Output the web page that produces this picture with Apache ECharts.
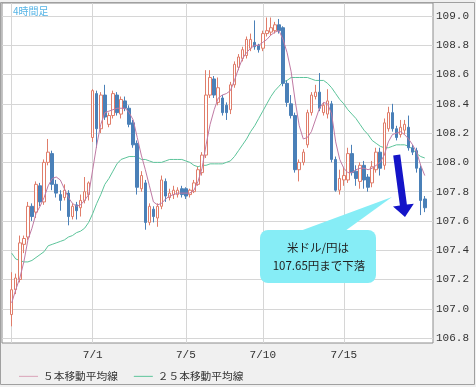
<!DOCTYPE html>
<html><head><meta charset="utf-8">
<script src="https://cdn.jsdelivr.net/npm/echarts@6/dist/echarts.min.js"></script>
<style>html,body{margin:0;padding:0;background:#fff}#c{width:476px;height:387px}</style>
</head><body><div id="c"></div>
<script>
// 4-hour bars (index 0..102)
const opens  = [106.96,107.13,107.20,107.44,107.49,107.70,107.66,107.84,107.73,108.00,108.06,107.85,107.78,107.76,107.79,107.63,107.71,107.69,107.74,107.78,
108.17,108.47,108.23,108.46,108.26,108.32,108.46,108.33,108.42,108.37,108.27,108.13,107.82,107.86,107.59,107.68,107.62,107.70,107.87,107.76,
107.78,107.78,107.82,107.82,107.78,107.80,107.85,107.93,108.05,108.46,108.57,108.41,108.44,108.39,108.36,108.53,108.65,108.71,108.73,108.78,
108.82,108.80,108.78,108.88,108.89,108.90,108.94,108.92,108.54,108.40,108.32,107.95,108.00,108.12,108.34,108.45,108.48,108.34,108.33,108.40,
108.02,107.81,107.88,107.88,108.06,107.94,107.87,107.98,107.90,107.86,107.95,108.07,107.98,108.23,108.34,108.23,108.19,108.22,108.24,108.10,
108.08,107.96,107.75];
const closes = [107.13,107.21,107.45,107.48,107.70,107.63,107.85,107.73,108.00,108.07,107.85,107.79,107.74,107.81,107.63,107.70,107.67,107.74,107.80,107.86,
108.49,108.23,108.46,108.31,108.32,108.47,108.34,108.43,108.37,108.26,108.12,107.83,107.91,107.59,107.70,107.63,107.70,107.88,107.77,107.79,
107.81,107.81,107.78,107.77,107.81,107.86,107.95,108.05,108.46,108.58,108.46,108.51,108.34,108.34,108.53,108.67,108.72,108.77,108.84,108.84,
108.79,108.77,108.88,108.90,108.92,108.94,108.90,108.54,108.41,108.32,107.95,108.00,108.07,108.34,108.46,108.48,108.37,108.39,108.42,108.02,
107.81,107.89,107.91,108.06,107.93,107.89,107.98,107.88,107.83,107.97,108.07,107.96,108.27,108.34,108.23,108.17,108.24,108.26,108.10,108.07,
107.96,107.74,107.69];
const lows   = [106.88,107.10,107.18,107.38,107.47,107.60,107.62,107.70,107.71,107.98,107.81,107.76,107.67,107.74,107.57,107.61,107.61,107.63,107.72,107.74,
108.14,108.10,108.20,108.29,108.24,108.30,108.32,108.30,108.35,108.24,108.10,107.78,107.80,107.54,107.57,107.59,107.56,107.68,107.73,107.74,
107.75,107.76,107.76,107.75,107.76,107.79,107.84,107.91,108.03,108.44,108.44,108.39,108.32,108.29,108.33,108.51,108.63,108.69,108.71,108.76,
108.77,108.75,108.76,108.86,108.87,108.88,108.88,108.52,108.38,108.30,107.93,107.87,107.98,108.10,108.32,108.43,108.35,108.32,108.30,108.00,
107.80,107.78,107.84,107.86,107.91,107.84,107.82,107.82,107.80,107.83,107.93,107.91,107.95,108.21,108.21,108.15,108.17,108.19,108.08,108.05,
107.93,107.64,107.66];
const highs  = [107.25,107.24,107.50,107.50,107.73,107.72,107.87,107.86,108.02,108.16,108.08,107.88,107.81,107.85,107.81,107.72,107.73,107.78,107.90,107.87,
108.50,108.49,108.48,108.53,108.34,108.49,108.48,108.45,108.45,108.39,108.29,108.15,107.94,107.88,107.72,107.70,107.72,107.91,107.89,107.82,
107.84,107.83,107.84,107.83,107.82,107.88,107.97,108.07,108.63,108.63,108.59,108.58,108.46,108.41,108.55,108.69,108.74,108.79,108.86,108.88,
108.97,108.81,108.90,108.99,108.99,108.96,108.98,108.93,108.56,108.46,108.34,108.02,108.09,108.36,108.48,108.53,108.61,108.41,108.50,108.42,
108.04,107.95,107.97,108.10,108.12,107.98,108.00,108.01,107.92,108.01,108.10,108.10,108.30,108.38,108.40,108.25,108.29,108.29,108.32,108.12,
108.10,107.98,107.77];
const ma5  = [107.04,107.13,107.21,107.32,107.47,107.55,107.65,107.70,107.76,107.84,107.89,107.90,107.88,107.82,107.76,107.72,107.70,107.71,107.74,107.78,
107.95,108.12,108.26,108.34,108.35,108.36,108.37,108.37,108.37,108.34,108.29,108.17,108.05,107.95,107.84,107.73,107.71,107.72,107.75,107.77,
107.78,107.79,107.79,107.79,107.79,107.81,107.87,107.96,108.12,108.26,108.36,108.44,108.46,108.47,108.49,108.56,108.64,108.71,108.75,108.78,
108.80,108.80,108.82,108.84,108.87,108.89,108.90,108.84,108.75,108.62,108.42,108.25,108.16,108.17,108.21,108.29,108.37,108.41,108.40,108.33,
108.14,108.02,107.96,107.93,107.93,107.95,107.96,107.96,107.95,107.96,107.98,108.00,108.05,108.14,108.19,108.20,108.21,108.19,108.16,108.12,
108.07,107.98,107.91];
const ma25 = [107.38,107.34,107.33,107.32,107.32,107.33,107.35,107.37,107.39,107.43,107.44,107.45,107.46,107.47,107.49,107.50,107.52,107.53,107.55,107.59,
107.65,107.72,107.78,107.85,107.89,107.94,107.99,108.02,108.03,108.04,108.04,108.04,108.02,108.02,108.01,108.00,108.00,108.00,108.01,108.02,
108.02,108.02,108.02,108.01,108.00,107.98,107.97,107.98,107.98,107.99,107.99,107.99,107.99,108.00,108.01,108.04,108.08,108.12,108.16,108.21,
108.25,108.30,108.35,108.40,108.45,108.49,108.52,108.55,108.56,108.58,108.58,108.58,108.58,108.58,108.57,108.56,108.56,108.56,108.54,108.51,
108.47,108.43,108.40,108.36,108.33,108.30,108.26,108.22,108.19,108.15,108.13,108.11,108.10,108.10,108.11,108.12,108.12,108.12,108.11,108.09,
108.06,108.04,108.03];
const gridIndex = [0,20,43,62,82];
const dateIndex = [20,43,62,82];
const dateLabels = ['7/1','7/5','7/10','7/15'];
const yTicks = [106.8,107.0,107.2,107.4,107.6,107.8,108.0,108.2,108.4,108.6,108.8,109.0];
const seriesNames = ['５本移動平均線','２５本移動平均線'];

const candles = opens.map((o,i)=>[i,o,closes[i],lows[i],highs[i]]);
const chart = echarts.init(document.getElementById('c'), null, {renderer:'canvas'});
const jp = '"Noto Sans CJK JP", sans-serif';
chart.setOption({
  animation:false,
  backgroundColor:'#f0f0f0',
  grid:{left:2,right:43,top:3,bottom:44,show:true,backgroundColor:'#ffffff',borderColor:'#8c8c8c',borderWidth:1},
  xAxis:{type:'value',min:-2.395,max:104.03,
    axisLine:{show:false},
    axisTick:{show:false,customValues:gridIndex},
    splitLine:{show:true,lineStyle:{color:'#d6d6d6',width:1}},
    axisLabel:{customValues:dateIndex,margin:7,color:'#333',fontSize:11,fontFamily:'"Liberation Mono", monospace',
      formatter:v=>dateLabels[dateIndex.indexOf(Math.round(v))]||''}},
  yAxis:{type:'value',position:'right',min:106.766,max:109.089,
    axisLine:{show:false},
    axisTick:{show:false,customValues:yTicks},
    splitLine:{show:true,lineStyle:{color:'#d6d6d6',width:1}},
    axisLabel:{customValues:yTicks,margin:3,color:'#333',fontSize:11,fontFamily:'"Liberation Mono", monospace',
      formatter:v=>v.toFixed(1)}},
  legend:{left:14,top:366,icon:'rect',itemWidth:19,itemHeight:1,itemGap:16,
    textStyle:{fontSize:10.7,color:'#333',fontFamily:jp},data:seriesNames},
  series:[
    {type:'line',name:seriesNames[1],data:ma25.map((v,i)=>[i,v]),symbol:'none',lineStyle:{width:1,color:'#5cc49a'},itemStyle:{color:'#5cc49a'},z:3},
    {type:'candlestick',data:candles,barWidth:3,
      itemStyle:{color:'#ffffff',color0:'#4a80b8',borderColor:'#e07d6a',borderColor0:'#4a80b8',borderWidth:1},z:4},
    {type:'line',name:seriesNames[0],data:ma5.map((v,i)=>[i,v]),symbol:'none',lineStyle:{width:1,color:'#c07aa4'},itemStyle:{color:'#d9a3b8'},z:5}
  ],
  graphic:[
    {type:'rect',shape:{x:0.5,y:2.5,width:474,height:382},style:{fill:null,stroke:'#a0a0a0',lineWidth:1},silent:true,z:0},
    {type:'text',left:13,top:6,style:{text:'4時間足',fill:'#55b4e6',fontSize:10,fontFamily:jp},z:10},
    {type:'polygon',shape:{points:[[300,231],[392,197],[345,231]]},style:{fill:'#86edf6'},z:10},
    {type:'rect',shape:{x:260,y:230,width:116,height:53,r:8},style:{fill:'#86edf6'},z:10},
    {type:'text',x:318,y:248,style:{text:'米ドル/円は',fill:'#222',fontSize:11.5,fontFamily:jp,align:'center',verticalAlign:'middle'},z:11},
    {type:'text',x:319,y:266,style:{text:'107.65円まで下落',fill:'#222',fontSize:11.5,fontFamily:jp,align:'center',verticalAlign:'middle'},z:11},
    {type:'polygon',shape:{points:[[400.2,154.5],[406.9,204.6],[413.8,203.7],[405,217],[393,206.5],[399.9,205.6],[393.2,155.5]]},
      style:{fill:'#1414c8'},z:10}
  ]
});
</script></body></html>
